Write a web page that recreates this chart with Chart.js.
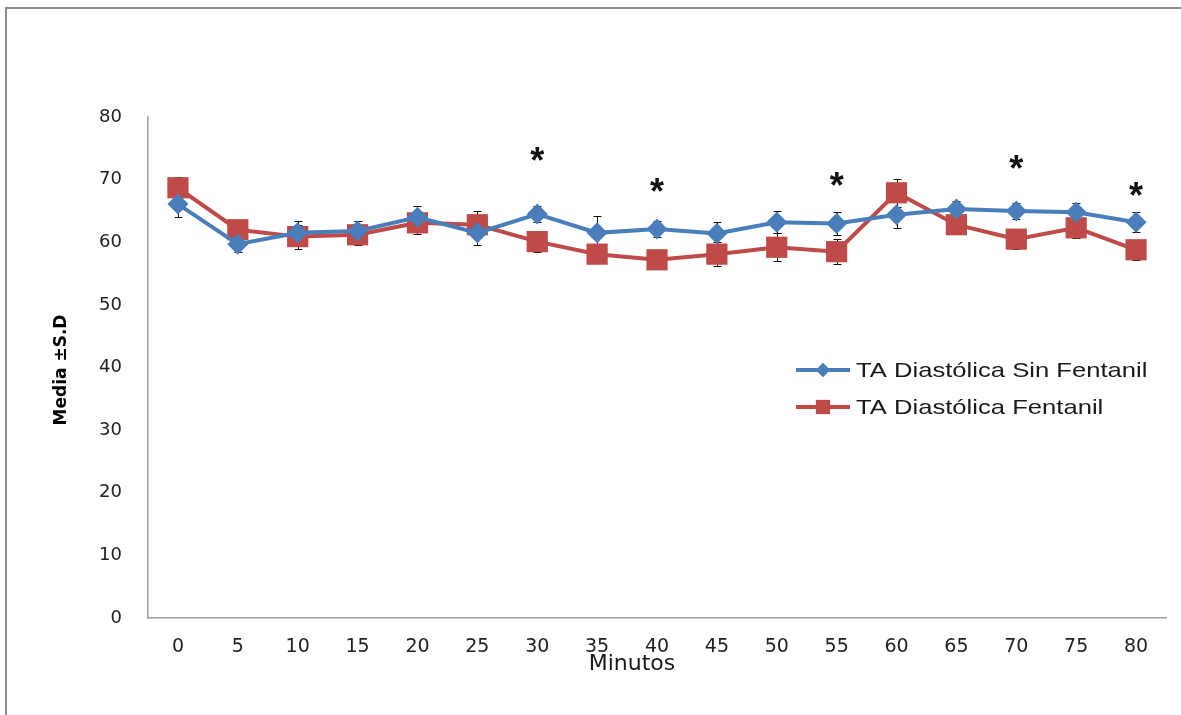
<!DOCTYPE html>
<html>
<head>
<meta charset="utf-8">
<script src="https://cdn.jsdelivr.net/npm/chart.js@4/dist/chart.umd.min.js"></script>
<style>
  html, body { margin: 0; padding: 0; background: #fff; overflow: hidden; }
  #marco { position: absolute; left: 5px; top: 7px; width: 1250px; height: 800px;
           border: 2px solid #8a8a8a; box-sizing: border-box; }
  #caja { position: absolute; left: 0; top: 0; width: 1181px; height: 715px; }
</style>
</head>
<body>
<div id="marco"></div>
<div id="caja"><canvas id="grafico"></canvas></div>
<script>
// datos
var minutos = ['0', '5', '10', '15', '20', '25', '30', '35', '40', '45', '50', '55', '60', '65', '70', '75', '80'];
var sinFentanil = [66.1, 59.7, 61.5, 61.8, 64.0, 61.5, 64.5, 61.5, 62.1, 61.4, 63.2, 63.0, 64.4, 65.3, 65.0, 64.8, 63.2];
var conFentanil = [68.7, 62.0, 60.9, 61.2, 63.1, 62.8, 60.1, 58.1, 57.2, 58.1, 59.2, 58.5, 67.9, 62.8, 60.5, 62.3, 58.8];
var sdSin = [2.0, 1.3, 1.9, 1.6, 1.8, 1.9, 1.3, 2.7, 1.3, 1.9, 1.8, 1.9, 2.1, 1.3, 1.3, 1.4, 1.6];
var sdCon = [1.7, 1.0, 1.9, 1.6, 1.8, 2.2, 1.7, 1.0, 1.0, 1.9, 2.2, 2.0, 2.2, 1.0, 1.5, 1.6, 1.6];
var asteriscos = ['30', '40', '55', '70', '80'];
var alturaAsterisco = [73.2, 68.2, 69.1, 71.9, 67.5];
var ticksY = [0, 10, 20, 30, 40, 50, 60, 70, 80];

var AZUL = '#4A7EBB';
var ROJO = '#BE4B48';

// barras de error (media +/- S.D) dibujadas antes de las series
var barrasError = {
    id: 'barrasError',
    beforeDatasetsDraw: function (chart) {
        var ctx = chart.ctx;
        var x = chart.scales.x, y = chart.scales.y;
        var listas = [[sinFentanil, sdSin], [conFentanil, sdCon]];
        ctx.save();
        ctx.strokeStyle = '#111';
        ctx.lineWidth = 1;
        listas.forEach(function (par) {
            par[0].forEach(function (v, i) {
                var px = Math.round(x.getPixelForValue(i)) + 0.5;
                var arriba = Math.round(y.getPixelForValue(v + par[1][i])) + 0.5;
                var abajo = Math.round(y.getPixelForValue(v - par[1][i])) + 0.5;
                ctx.beginPath();
                ctx.moveTo(px, arriba); ctx.lineTo(px, abajo);
                ctx.moveTo(px - 4, arriba); ctx.lineTo(px + 4, arriba);
                ctx.moveTo(px - 4, abajo); ctx.lineTo(px + 4, abajo);
                ctx.stroke();
            });
        });
        ctx.restore();
    }
};

// asteriscos, leyenda y titulos de ejes
var extras = {
    id: 'extras',
    afterDraw: function (chart) {
        var ctx = chart.ctx;
        var x = chart.scales.x, y = chart.scales.y;
        ctx.save();

        ctx.fillStyle = '#111';
        ctx.font = 'bold 36px "Liberation Sans", Arial, sans-serif';
        ctx.textAlign = 'center';
        ctx.textBaseline = 'alphabetic';
        asteriscos.forEach(function (m, k) {
            var px = x.getPixelForValue(minutos.indexOf(m));
            var py = y.getPixelForValue(alturaAsterisco[k]);
            ctx.fillText('*', px, py + 13);
        });

        // leyenda
        var items = [
            { texto: 'TA Diastólica Sin Fentanil', color: AZUL, estilo: 'rectRot', r: 7 },
            { texto: 'TA Diastólica Fentanil', color: ROJO, estilo: 'rect', r: 10 }
        ];
        ctx.textAlign = 'left';
        ctx.textBaseline = 'middle';
        items.forEach(function (it, k) {
            var ly = 370 + k * 37;
            ctx.strokeStyle = it.color;
            ctx.lineWidth = 4;
            ctx.beginPath();
            ctx.moveTo(796, ly); ctx.lineTo(850, ly);
            ctx.stroke();
            ctx.fillStyle = it.color;
            Chart.helpers.drawPoint(ctx, { pointStyle: it.estilo, radius: it.r, borderWidth: 0 }, 823, ly);
            ctx.fill();
            // texto algo ensanchado como en el original
            ctx.save();
            ctx.translate(856, ly + 1);
            ctx.scale(1.22, 1);
            ctx.font = '21px "Liberation Sans", Arial, sans-serif';
            ctx.fillStyle = '#1a1a1a';
            ctx.fillText(it.texto, 0, 0);
            ctx.restore();
        });

        // titulo eje X
        ctx.font = '22px "DejaVu Sans", sans-serif';
        ctx.textAlign = 'center';
        ctx.textBaseline = 'middle';
        ctx.fillStyle = '#1a1a1a';
        ctx.fillText('Minutos', 632, 664);

        // titulo eje Y
        ctx.translate(62, 370);
        ctx.rotate(-Math.PI / 2);
        ctx.font = 'bold 17px "DejaVu Sans", sans-serif';
        ctx.fillStyle = '#000';
        ctx.fillText('Media ±S.D', 0, 0);
        ctx.restore();
    }
};

var ctx = document.getElementById('grafico').getContext('2d');
new Chart(ctx, {
    type: 'line',
    data: {
        labels: minutos,
        datasets: [{
            label: 'TA Diastólica Sin Fentanil',
            data: sinFentanil,
            borderColor: AZUL,
            backgroundColor: AZUL,
            borderWidth: 4,
            pointStyle: 'rectRot',
            pointRadius: 10.5,
            pointHoverRadius: 10.5,
            pointBorderWidth: 0,
            tension: 0
        }, {
            label: 'TA Diastólica Fentanil',
            data: conFentanil,
            borderColor: ROJO,
            backgroundColor: ROJO,
            borderWidth: 4,
            pointStyle: 'rect',
            pointRadius: 15,
            pointHoverRadius: 15,
            pointBorderWidth: 0,
            tension: 0
        }]
    },
    options: {
        responsive: true,
        maintainAspectRatio: false,
        animation: false,
        layout: { padding: { top: 117, right: 3, left: 0, bottom: 0 } },
        plugins: {
            legend: { display: false },
            tooltip: { enabled: false }
        },
        scales: {
            x: {
                offset: true,
                grid: { display: false, drawTicks: false },
                border: { display: true, color: '#a0a0a0', width: 1.5 },
                ticks: {
                    color: '#222',
                    padding: 18,
                    maxRotation: 0,
                    autoSkip: false,
                    font: { family: '"DejaVu Sans", sans-serif', size: 19 }
                },
                afterFit: function (scale) { scale.height = 97; }
            },
            y: {
                min: 0,
                max: 80,
                grid: { display: false, drawTicks: false },
                border: { display: true, color: '#a0a0a0', width: 1.5 },
                afterBuildTicks: function (scale) {
                    scale.ticks = ticksY.map(function (v) { return { value: v }; });
                },
                ticks: {
                    color: '#222',
                    padding: 26,
                    font: { family: '"DejaVu Sans", sans-serif', size: 18 }
                },
                afterFit: function (scale) { scale.width = 148; }
            }
        }
    },
    plugins: [barrasError, extras]
});
</script>
</body>
</html>
